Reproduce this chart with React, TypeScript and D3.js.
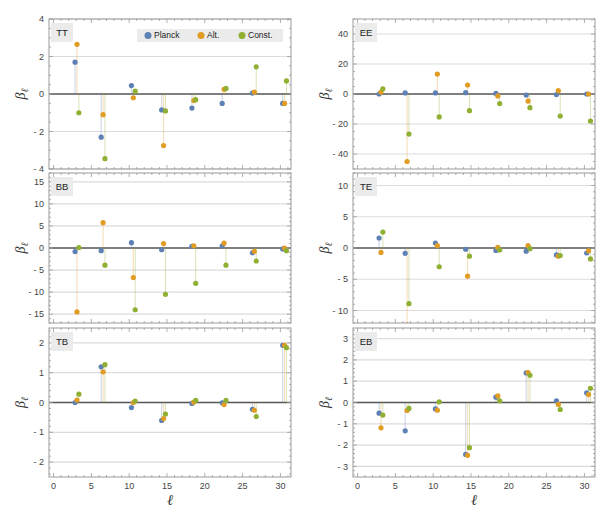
import React from 'react'
import * as d3 from 'd3'

// bin centres in ell, and the horizontal nudge for each series
const ELL = [3.1, 6.55, 10.55, 14.55, 18.55, 22.55, 26.55, 30.55]
const SERIES = ['Planck', 'Alt.', 'Const.']
const COLORS = ['#5e81b5', '#e19c24', '#8fb032']
const OFFSET = [-0.25, 0, 0.25]

const TT_PLANCK = [1.7, -2.3, 0.45, -0.85, -0.75, -0.5, 0.05, -0.5]
const TT_ALT = [2.65, -1.1, -0.2, -2.75, -0.35, 0.25, 0.1, -0.5]
const TT_CONST = [-1.0, -3.45, 0.15, -0.9, -0.3, 0.3, 1.45, 0.7]

const EE_PLANCK = [0, 0.7, 0.7, 0.9, 0.4, -0.7, -0.4, 0]
const EE_ALT = [1.3, -45, 13.3, 6, -1.3, -4.7, 2.2, 0]
const EE_CONST = [3.5, -26.7, -15.3, -11.1, -6.4, -9.1, -14.7, -18]

const BB_PLANCK = [-0.8, -0.6, 1.2, -0.4, 0.4, 0.5, -1.1, -0.2]
const BB_ALT = [-14.5, 5.75, -6.7, 1.0, 0.5, 1.1, -0.75, 0]
const BB_CONST = [0.1, -3.9, -14.0, -10.5, -8.0, -3.9, -2.95, -0.6]

const TE_PLANCK = [1.6, -0.85, 0.8, -0.2, -0.4, -0.5, -1.1, -0.8]
const TE_ALT = [-0.7, -12.3, 0.4, -4.5, 0.1, 0.4, -1.3, -0.45]
const TE_CONST = [2.55, -8.9, -3.0, -1.3, -0.3, -0.1, -1.2, -1.75]

const TB_PLANCK = [0, 1.2, -0.17, -0.6, -0.03, -0.01, -0.23, 1.92]
const TB_ALT = [0.08, 1.03, 0, -0.54, 0.01, -0.07, -0.26, 1.92]
const TB_CONST = [0.28, 1.27, 0.05, -0.39, 0.07, 0.07, -0.47, 1.84]

const EB_PLANCK = [-0.5, -1.33, -0.3, -2.44, 0.25, 1.39, 0.08, 0.45]
const EB_ALT = [-1.19, -0.375, -0.36, -2.48, 0.31, 1.41, -0.09, 0.375]
const EB_CONST = [-0.59, -0.28, 0.03, -2.12, 0.08, 1.28, -0.33, 0.67]

const X_TICKS = [0, 5, 10, 15, 20, 25, 30]

const PANELS = [
  { name: 'TT', col: 0, row: 0, dom: [-4, 4], ticks: [-4, -2, 0, 2, 4], minor: 0.5, vals: [TT_PLANCK, TT_ALT, TT_CONST], legend: true },
  { name: 'EE', col: 1, row: 0, dom: [-50, 50], ticks: [-40, -20, 0, 20, 40], minor: 5, vals: [EE_PLANCK, EE_ALT, EE_CONST] },
  { name: 'BB', col: 0, row: 1, dom: [-17, 17], ticks: [-15, -10, -5, 0, 5, 10, 15], minor: 1, vals: [BB_PLANCK, BB_ALT, BB_CONST] },
  { name: 'TE', col: 1, row: 1, dom: [-12, 12], ticks: [-10, -5, 0, 5, 10], minor: 1, vals: [TE_PLANCK, TE_ALT, TE_CONST] },
  { name: 'TB', col: 0, row: 2, dom: [-2.5, 2.5], ticks: [-2, -1, 0, 1, 2], minor: 0.2, vals: [TB_PLANCK, TB_ALT, TB_CONST] },
  { name: 'EB', col: 1, row: 2, dom: [-3.5, 3.5], ticks: [-3, -2, -1, 0, 1, 2, 3], minor: 0.2, vals: [EB_PLANCK, EB_ALT, EB_CONST] },
]

const COLS = [[49, 291], [353, 595]]
const ROWS = [[19, 169], [173, 323], [328, 477]]
const FONT = 'Liberation Sans, Arial, sans-serif'
const fmt = (v: number) => (v < 0 ? '- ' + Math.abs(v) : String(v))

function Panel({ p }: { p: any }) {
  const [x0, x1] = COLS[p.col]
  const [y0, y1] = ROWS[p.row]
  const x = d3.scaleLinear().domain([-0.6, 31.4]).range([x0, x1])
  const y = d3.scaleLinear().domain(p.dom).range([y1, y0])
  const clip = 'clip-' + p.name
  const xMinor = d3.range(0, 32, 1)
  const yMinor = d3.range(Math.ceil(p.dom[0] / p.minor), Math.floor(p.dom[1] / p.minor) + 1).map((k: number) => +(k * p.minor).toFixed(4))
  const frame = '#9a9a9a'
  return (
    <g>
      <clipPath id={clip}><rect x={x0} y={y0} width={x1 - x0} height={y1 - y0} /></clipPath>
      {p.ticks.filter((t: number) => t !== 0).map((t: number) => (
        <line key={'g' + t} x1={x0} x2={x1} y1={y(t)} y2={y(t)} stroke="#dcdcdc" strokeWidth={1.2} />
      ))}
      <line x1={x0} x2={x1} y1={y(0)} y2={y(0)} stroke="#555" strokeWidth={1.5} />
      <g clipPath={`url(#${clip})`}>
        {p.vals.map((vs: number[], si: number) => vs.map((v, i) => (
          <line key={`s${si}-${i}`} x1={x(ELL[i] + OFFSET[si])} x2={x(ELL[i] + OFFSET[si])} y1={y(0)} y2={y(v)}
            stroke={COLORS[si]} strokeOpacity={0.35} strokeWidth={1} />
        )))}
        {p.vals.map((vs: number[], si: number) => vs.map((v, i) => (
          <circle key={`c${si}-${i}`} cx={x(ELL[i] + OFFSET[si])} cy={y(v)} r={2.6} fill={COLORS[si]} />
        )))}
      </g>
      <rect x={x0} y={y0} width={x1 - x0} height={y1 - y0} fill="none" stroke={frame} strokeWidth={1} />
      {xMinor.map((t: number) => {
        const len = t % 5 === 0 ? 4 : 2
        return (
          <g key={'xt' + t} stroke={frame} strokeWidth={0.8}>
            <line x1={x(t)} x2={x(t)} y1={y1} y2={y1 - len} />
            <line x1={x(t)} x2={x(t)} y1={y0} y2={y0 + len} />
          </g>
        )
      })}
      {yMinor.map((t: number) => {
        const major = p.ticks.some((m: number) => Math.abs(m - t) < 1e-6)
        const len = major ? 4 : 2
        return (
          <g key={'yt' + t} stroke={frame} strokeWidth={0.8}>
            <line x1={x0} x2={x0 + len} y1={y(t)} y2={y(t)} />
            <line x1={x1} x2={x1 - len} y1={y(t)} y2={y(t)} />
          </g>
        )
      })}
      {p.ticks.map((t: number) => (
        <text key={'yl' + t} x={x0 - 5} y={y(t)} dy="0.35em" textAnchor="end" fontSize={9} fill="#444" fontFamily={FONT}>{fmt(t)}</text>
      ))}
      {p.row === 2 && X_TICKS.map((t: number) => (
        <text key={'xl' + t} x={x(t)} y={y1 + 12} textAnchor="middle" fontSize={9} fill="#444" fontFamily={FONT}>{t}</text>
      ))}
      {p.row === 2 && (
        <text x={(x0 + x1) / 2} y={y1 + 28} textAnchor="middle" fontSize={15} fontStyle="italic" fontFamily="Liberation Serif, serif" fill="#333">ℓ</text>
      )}
      <text transform={`translate(${x0 - 24},${(y0 + y1) / 2}) rotate(-90)`} textAnchor="middle" fontSize={14} fontStyle="italic" fontFamily="Liberation Serif, serif" fill="#333">
        β<tspan fontSize={10} dy={3}>ℓ</tspan>
      </text>
      <rect x={x0 + 2} y={y0 + 4} width={22} height={19} fill="#ebebeb" />
      <text x={x0 + 13} y={y0 + 13.5} dy="0.35em" textAnchor="middle" fontSize={9.5} fill="#222" fontFamily={FONT}>{p.name}</text>
      {p.legend && (
        <g>
          <rect x={x0 + 88} y={y0 + 10} width={146} height={13} fill="#ebebeb" />
          {SERIES.map((s, i) => {
            const lx = x0 + [99, 152, 193][i]
            return (
              <g key={s}>
                <circle cx={lx} cy={y0 + 16.5} r={3.5} fill={COLORS[i]} />
                <text x={lx + 6} y={y0 + 16.5} dy="0.35em" fontSize={8.5} fill="#222" fontFamily={FONT}>{s}</text>
              </g>
            )
          })}
        </g>
      )}
    </g>
  )
}

export default function App() {
  return (
    <svg width={599} height={517} style={{ position: 'absolute', left: 0, top: 0, background: '#fff' }}>
      {PANELS.map(p => <Panel key={p.name} p={p} />)}
    </svg>
  )
}
